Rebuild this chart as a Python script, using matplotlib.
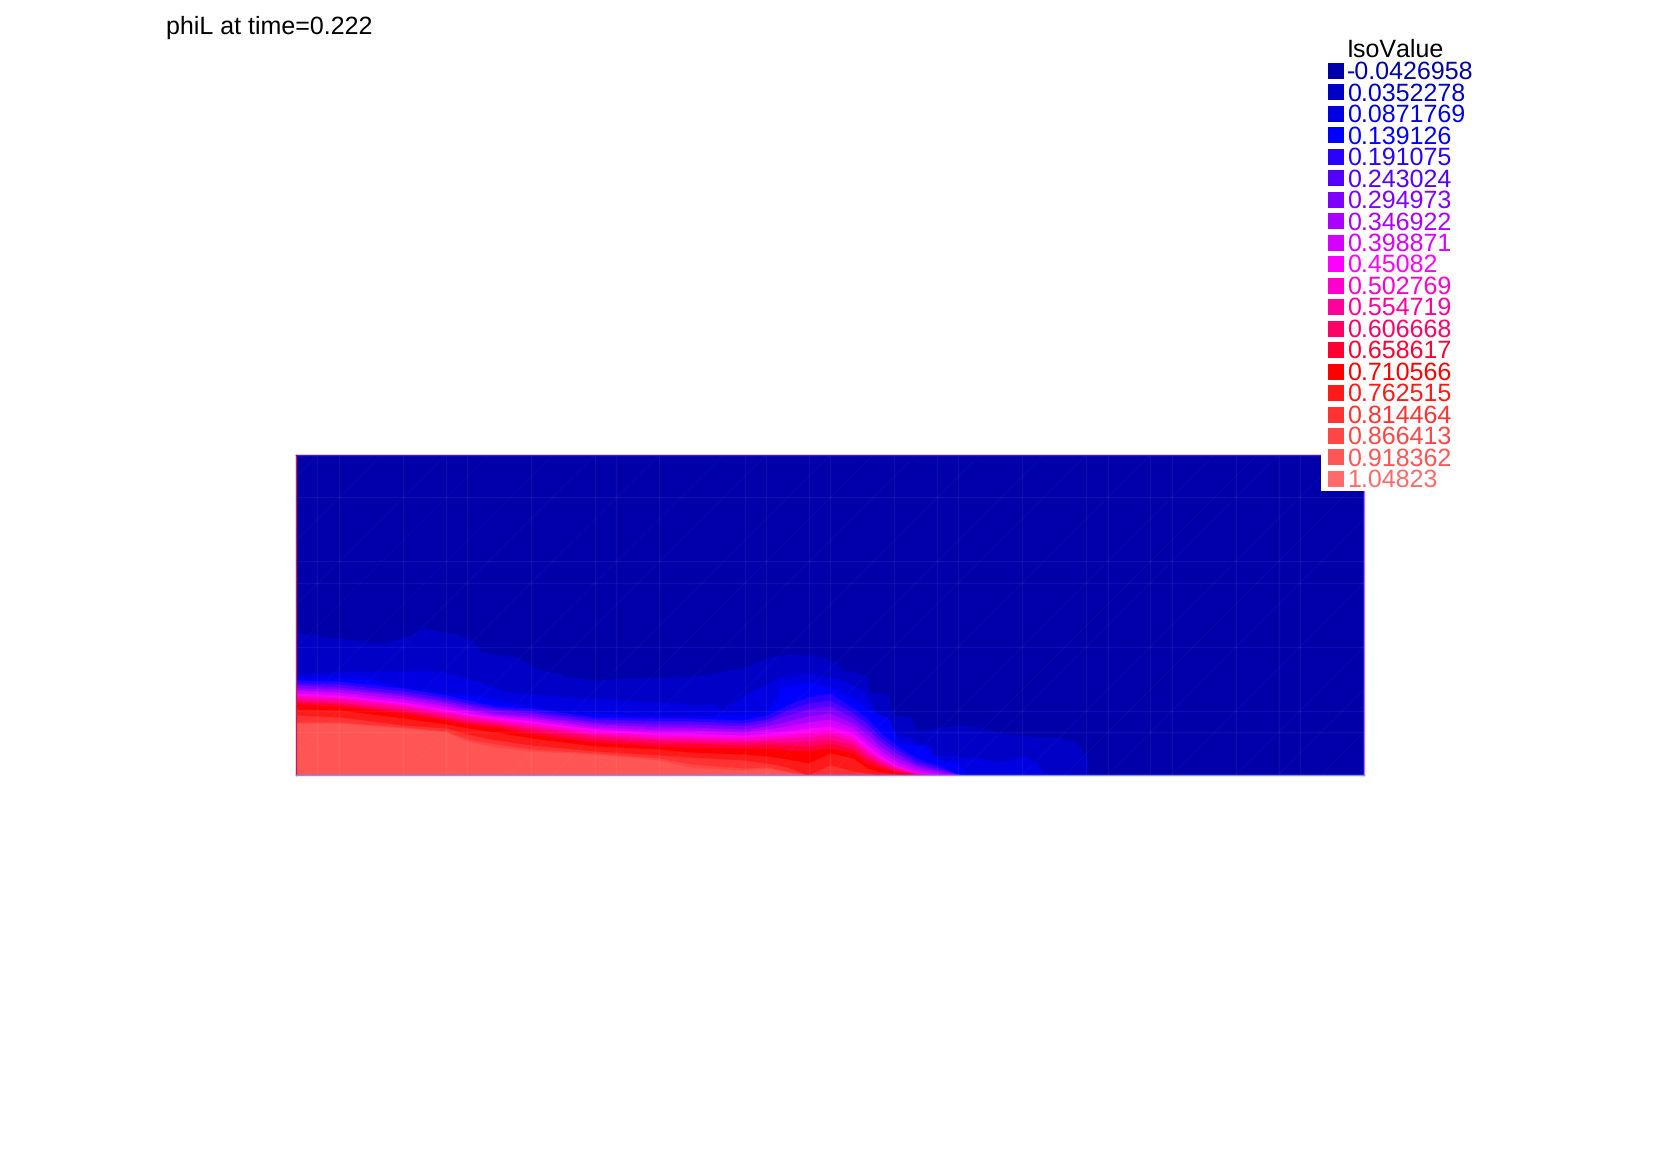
import matplotlib
matplotlib.use('Agg')
import matplotlib.pyplot as plt
from matplotlib.patches import Rectangle

plt.rcParams['font.family'] = ['Liberation Sans', 'DejaVu Sans']
plt.rcParams['text.hinting'] = 'no_hinting'
plt.rcParams['text.hinting_factor'] = 1
plt.rcParams['text.kerning_factor'] = 6

title = 'phiL at time=0.222'
legend_title = 'IsoValue'
iso_labels = ['-0.0426958', '0.0352278', '0.0871769', '0.139126', '0.191075',
              '0.243024', '0.294973', '0.346922', '0.398871', '0.45082',
              '0.502769', '0.554719', '0.606668', '0.658617', '0.710566',
              '0.762515', '0.814464', '0.866413', '0.918362', '1.04823']
iso_colors = ['#0000aa', '#0000c6', '#0000e2', '#0000ff', '#2a00ff',
              '#5500ff', '#8000ff', '#aa00ff', '#d500ff', '#ff00ff',
              '#ff00cc', '#ff0099', '#ff0066', '#ff0033', '#ff0000',
              '#ff1a1a', '#ff3333', '#ff4646', '#ff5555', '#ff6a6a']

# outer isolines, read one by one (distance along domain, height)
x1 = [0, 21, 31, 44, 64, 87, 107, 129, 147, 162, 177, 187, 224, 241, 277, 301, 327, 384,
      404, 447, 471, 494, 524, 541, 544, 571, 573, 592, 597, 615, 620, 661, 687, 704, 744, 764, 781, 791, 793]
h1 = [143, 140, 137, 137, 134, 132, 137, 147, 143, 141, 133, 123, 117, 106, 98, 95, 97, 98,
      100, 107, 118, 121, 119, 113, 106, 100, 84, 80, 60, 59, 44, 50, 47, 42, 38, 38, 32, 18, 0]
x2 = [0, 51, 84, 127, 147, 164, 187, 207, 237, 284, 317, 351, 384, 401, 414, 427, 449, 484,
      512, 544, 569, 577, 597, 614, 624, 637, 661, 684, 701, 727, 741, 749]
h2 = [101, 104, 104, 104, 103, 99, 92, 84, 81, 77, 76, 73, 72, 69, 72, 66, 80, 98,
      102, 96, 83, 68, 42, 38, 30, 20, 19, 17, 13, 19, 13, 0]
x3 = [0, 34, 74, 97, 121, 151, 184, 217, 237, 261, 301, 351, 384, 471, 481, 484, 512, 534,
      557, 574, 591, 599, 601, 617, 631, 641, 662, 671]
h3 = [98, 98, 96, 90, 85, 82, 79, 72, 68, 63, 62, 60, 58, 63, 78, 88, 93, 88,
      77, 65, 58, 42, 33, 30, 30, 15, 12, 0]

# inner isolines share the same stations
x_front = [0, 43, 107, 150, 171, 200, 235, 299, 363, 394, 447, 471, 491, 512, 534, 557, 571, 584, 600, 620, 640, 665]
h4 = [95, 94, 87, 80, 75, 69, 67, 58, 57, 57, 55, 60, 70, 78, 82, 67, 57, 43, 30, 17, 10, 0]
h5 = [92, 91, 84, 77, 72, 67, 64, 56, 54, 54, 52, 56, 65, 72, 75, 62, 52, 38, 26, 14, 8, 0]
h6 = [90, 88, 81, 74, 70, 65, 62, 53, 51, 51, 49, 53, 60, 66, 69, 57, 46, 34, 22, 11, 6, 0]
h7 = [87, 86, 79, 72, 67, 62, 59, 51, 48, 48, 46, 49, 54, 59, 62, 52, 41, 29, 18, 9, 4, 0]
h8 = [85, 83, 76, 69, 65, 60, 57, 48, 45, 45, 43, 46, 49, 53, 56, 47, 35, 25, 14, 6, 2, 0]
h9 = [82, 80, 73, 66, 62, 58, 54, 46, 42, 42, 40, 42, 44, 47, 49, 42, 30, 20, 10, 3, 0, 0]
h10 = [80, 78, 71, 64, 60, 56, 52, 44, 40, 39, 38, 39, 40, 43, 45, 38, 26, 17, 9, 2, 0, 0]
h11 = [78, 76, 69, 62, 58, 54, 49, 41, 37, 37, 35, 36, 37, 38, 41, 34, 23, 15, 7, 2, 0, 0]
h12 = [75, 73, 66, 59, 55, 52, 47, 39, 35, 34, 33, 34, 33, 34, 36, 30, 19, 12, 6, 1, 0, 0]
h13 = [73, 71, 64, 57, 53, 50, 44, 36, 32, 32, 30, 31, 30, 29, 32, 26, 16, 10, 4, 1, 0, 0]
h14 = [71, 69, 62, 55, 51, 48, 41, 33, 29, 28, 27, 27, 25, 24, 27, 22, 12, 7, 3, 0, 0, 0]
h15 = [66, 65, 57, 51, 47, 43, 37, 29, 26, 23, 21, 19, 16, 12, 22, 17, 7, 3, 1, 0, 0, 0]
h16 = [60, 58, 50, 47, 41, 35, 30, 24, 20, 18, 15, 12, 8, 0, 10, 4, 2, 0, 0, 0, 0, 0]
h17 = [53, 53, 48, 44, 36, 31, 26, 22, 17, 11, 7, 8, 4, 0, 1, 0, 0, 0, 0, 0, 0, 0]
h18 = [52, 52, 47, 43, 34, 28, 24, 21, 15, 8, 5, 7, 3, 0, 0, 0, 0, 0, 0, 0, 0, 0]

# faint mesh lines, in cells
mesh_x = [1, 2, 5, 7, 8, 11, 14, 15, 17, 21, 22, 24, 25, 28, 30, 31, 34, 37, 38, 40, 41, 44, 46, 47]
mesh_y = [2, 3, 6, 9, 10, 13]
mesh_diag = [-14, -11, -8, -6, -3, -1, 2, 5, 7, 10, 12, 14, 17, 20, 22, 25, 28, 30, 31, 34, 36, 38, 41, 44, 46, 48]

fig = plt.figure(figsize=(16.61, 11.73), dpi=100, facecolor='white')
W, H = 1661, 1173
left, right, top, bottom = 296, 1364, 455, 775
ax = fig.add_axes([left / W, 1 - bottom / H, (right - left) / W, (bottom - top) / H])
dom_w, dom_h = right - left, bottom - top
cell = dom_w / 50
ax.set_xlim(0, dom_w)
ax.set_ylim(0, dom_h)
ax.axis('off')

# bands, painted from the outside in
ax.add_patch(Rectangle((0, 0), dom_w, dom_h, color=iso_colors[0], lw=0))
ax.fill_between(x1, 0, h1, color=iso_colors[1], lw=0)
ax.fill_between(x2, 0, h2, color=iso_colors[2], lw=0)
ax.fill_between(x3, 0, h3, color=iso_colors[3], lw=0)
front = [h4, h5, h6, h7, h8, h9, h10, h11, h12, h13, h14, h15, h16, h17, h18]
for i, h in enumerate(front):
    ax.fill_between(x_front, 0, h, color=iso_colors[i + 4], lw=0)

# mesh
for m in mesh_x:
    ax.plot([m * cell, m * cell], [0, dom_h], color='white', alpha=0.06, lw=1)
for m in mesh_y:
    ax.plot([0, dom_w], [m * cell, m * cell], color='white', alpha=0.06, lw=1)
for m in mesh_diag:
    ax.plot([m * cell, (m + 15) * cell], [0, dom_h], color='white', alpha=0.03, lw=0.8)

# overlay in pixels for the edges and legend
over = fig.add_axes([0, 0, 1, 1], facecolor='none')
over.set_xlim(0, W)
over.set_ylim(H, 0)
over.axis('off')
over.plot([left, left], [top, bottom], color='#c0205c', lw=1.0, zorder=1)
over.plot([left, right], [top, top], color='#5a10c8', lw=1.0, zorder=1)
over.plot([left, right], [bottom, bottom], color='#8a8aff', lw=1.0, zorder=1)
over.plot([right, right], [top, bottom], color='#b070ff', lw=1.0, zorder=1)

over.add_patch(Rectangle((1321, 40), 170, 451, color='white', lw=0, zorder=2))
font_pt = 17.95
over.text(1347, 57, legend_title, color='black', fontsize=font_pt, va='baseline', zorder=4)
for i, (lab, col) in enumerate(zip(iso_labels, iso_colors)):
    yc = 71 + i * 21.47
    over.add_patch(Rectangle((1328, yc - 8), 16, 16, color=col, lw=0, zorder=3))
    over.text(1347, yc + 8, lab, color=col, fontsize=font_pt, va='baseline', zorder=4)

over.text(165.5, 34, title, color='black', fontsize=font_pt, va='baseline')

fig.savefig('out.png', dpi=100, facecolor='white')
